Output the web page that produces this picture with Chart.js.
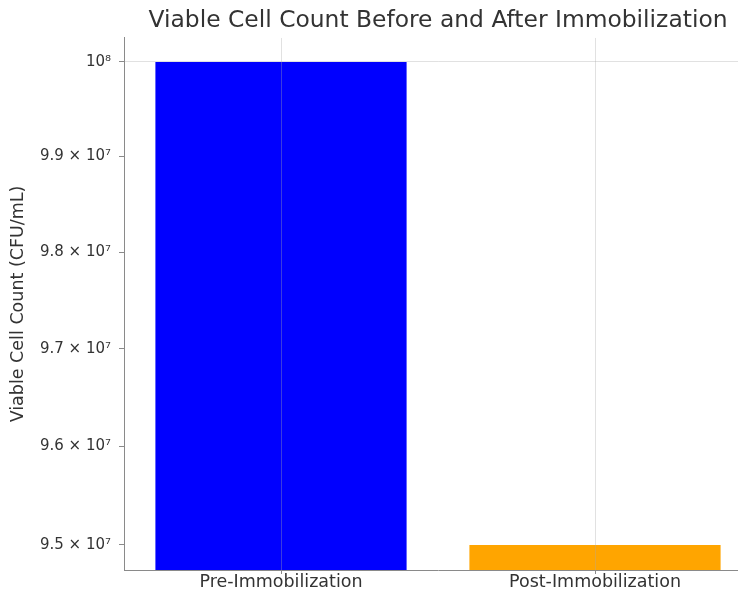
<!DOCTYPE html>
<html>
<head>
<meta charset="utf-8">
<script src="https://cdn.jsdelivr.net/npm/chart.js@4"></script>
<style>
  html, body { margin: 0; padding: 0; background: #fff; overflow: hidden; }
  #wrap { width: 754px; height: 591px; }
</style>
</head>
<body>
<div id="wrap"><canvas id="cellChart" width="754" height="591"></canvas></div>
<script>
const categories = ['Pre-Immobilization', 'Post-Immobilization'];
const cellCounts = [1e8, 9.5e7];
const barColors = ['#0000ff', '#ffa500'];
const yTickValues = [9.5e7, 9.6e7, 9.7e7, 9.8e7, 9.9e7, 1e8];
const yTickLabels = ['9.5 × 10⁷', '9.6 × 10⁷', '9.7 × 10⁷', '9.8 × 10⁷', '9.9 × 10⁷', '10⁸'];

const textColor = '#333';
const gridColor = 'rgba(170,170,170,0.35)';
const spineColor = '#8a8a8a';

Chart.defaults.font.family = '"DejaVu Sans", sans-serif';
Chart.defaults.color = textColor;

new Chart(document.getElementById('cellChart'), {
  type: 'bar',
  data: {
    labels: categories,
    datasets: [{
      label: 'Viable Cell Count',
      data: cellCounts,
      backgroundColor: barColors,
      borderWidth: 0,
      barPercentage: 0.8,
      categoryPercentage: 1.0
    }]
  },
  options: {
    responsive: false,
    animation: false,
    layout: { padding: { left: 0, right: 2, top: 0, bottom: 0 } },
    plugins: {
      legend: { display: false },
      tooltip: { enabled: false },
      title: {
        display: true,
        fullSize: false,
        text: 'Viable Cell Count Before and After Immobilization',
        color: textColor,
        font: { size: 23.4, weight: 'normal', lineHeight: 1.2 },
        padding: { top: 7, bottom: 2.9 }
      }
    },
    scales: {
      x: {
        offset: true,
        grid: {
          z: 1,
          offset: false,
          color: gridColor,
          tickColor: spineColor,
          tickLength: 4,
          drawTicks: true
        },
        border: { color: spineColor, width: 1, z: 2 },
        ticks: { color: textColor, font: { size: 17.5 }, padding: -2, maxRotation: 0 },
        afterFit: scale => { scale.height = 21; }
      },
      y: {
        type: 'logarithmic',
        min: 9.4748e7,
        max: 1.00255e8,
        afterBuildTicks: scale => {
          scale.ticks = yTickValues.map(v => ({ value: v }));
        },
        grid: {
          z: 1,
          color: ctx => (ctx.tick && ctx.tick.value === 1e8) ? gridColor : 'rgba(0,0,0,0)',
          tickColor: spineColor,
          tickLength: 5,
          drawTicks: true
        },
        border: { color: spineColor, width: 1, z: 2 },
        ticks: {
          color: textColor,
          font: { size: 15 },
          padding: 8,
          callback: value => {
            const i = yTickValues.indexOf(value);
            return i >= 0 ? yTickLabels[i] : '';
          }
        },
        title: {
          display: true,
          text: 'Viable Cell Count (CFU/mL)',
          color: textColor,
          font: { size: 17.5 },
          padding: { top: 8, bottom: 0 }
        },
        afterFit: scale => { scale.width = 124; }
      }
    }
  }
});
</script>
</body>
</html>
